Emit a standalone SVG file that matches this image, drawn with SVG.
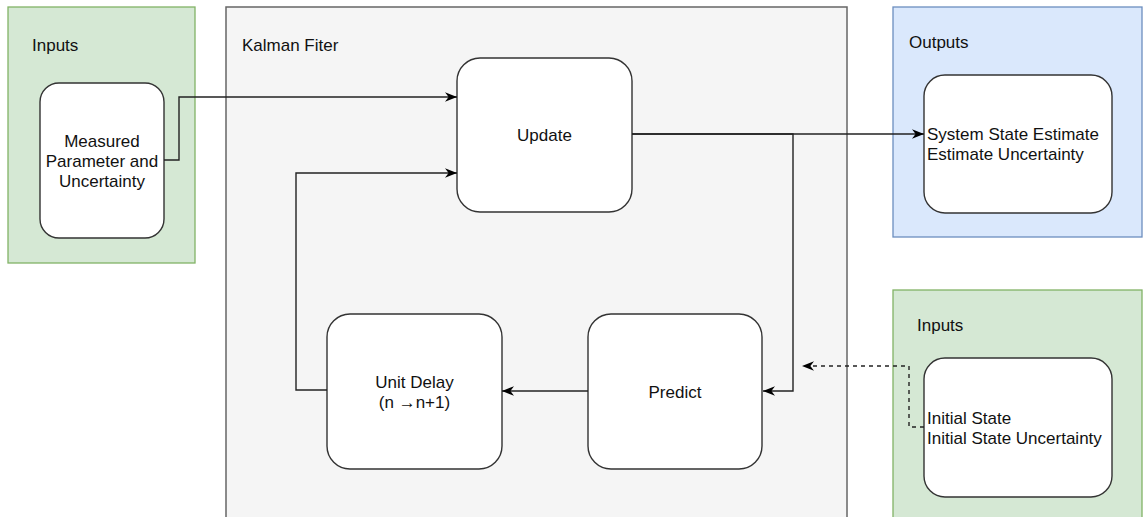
<svg xmlns="http://www.w3.org/2000/svg" width="1147" height="517" viewBox="0 0 1147 517">
<defs>
<style>
text{font-family:"Liberation Sans",Arial,Helvetica,sans-serif;font-size:17px;fill:#111}
.node{fill:#fff;stroke:#333;stroke-width:1.4}
.green{fill:#d5e8d4;stroke:#82b366;stroke-width:1.3}
.blue{fill:#dae8fc;stroke:#6c8ebf;stroke-width:1.3}
.gray{fill:#f5f5f5;stroke:#666;stroke-width:1.5}
.edge{fill:none;stroke:#222;stroke-width:1.4}
.dash{stroke-dasharray:4 4}
.c{text-anchor:middle}
</style>
<marker id="arr" viewBox="0 0 10 10" refX="10" refY="5" markerWidth="12" markerHeight="12" orient="auto" markerUnits="userSpaceOnUse">
<path d="M0,1 L10,5 L0,9 L3,5 Z" fill="#000"/>
</marker>
</defs>

<g id="container-inputs-left">
<rect class="green" x="8" y="7" width="187" height="256"/>
<text x="32" y="51">Inputs</text>
</g>
<g id="container-kalman">
<rect class="gray" x="226" y="7" width="621" height="525"/>
<text x="242" y="51">Kalman Fiter</text>
</g>
<g id="container-outputs">
<rect class="blue" x="893" y="7" width="249" height="230"/>
<text x="909" y="48">Outputs</text>
</g>
<g id="container-inputs-right">
<rect class="green" x="893" y="290" width="249" height="240"/>
<text x="917" y="331">Inputs</text>
</g>

<g id="node-measured">
<rect class="node" x="40" y="83" width="124" height="155" rx="19"/>
<text class="c" x="102" y="146.5">Measured</text>
<text class="c" x="102" y="166.5">Parameter and</text>
<text class="c" x="102" y="186.5">Uncertainty</text>
</g>
<g id="node-update">
<rect class="node" x="457" y="58" width="175" height="154" rx="23"/>
<text class="c" x="544.5" y="141">Update</text>
</g>
<g id="node-unit-delay">
<rect class="node" x="327" y="314" width="175" height="155" rx="23"/>
<text class="c" x="414.5" y="387.5">Unit Delay</text>
<text class="c" x="414.5" y="407.5">(n →n+1)</text>
</g>
<g id="node-predict">
<rect class="node" x="588" y="314" width="174" height="155" rx="23"/>
<text class="c" x="675" y="397.5">Predict</text>
</g>
<g id="node-system-state">
<rect class="node" x="924" y="75" width="188" height="138" rx="21"/>
<text x="927" y="140">System State Estimate</text>
<text x="927" y="160">Estimate Uncertainty</text>
</g>
<g id="node-initial-state">
<rect class="node" x="924" y="358" width="188" height="139" rx="21"/>
<text x="927" y="423.5">Initial State</text>
<text x="927" y="443.5">Initial State Uncertainty</text>
</g>

<g id="connectors">
<path class="edge" d="M164,160 H179 V97 H457" marker-end="url(#arr)"/>
<path class="edge" d="M327,390 H296 V173 H457" marker-end="url(#arr)"/>
<path class="edge" d="M632,134 H793 V391 H763" marker-end="url(#arr)"/>
<path class="edge" d="M632,134 H924" marker-end="url(#arr)"/>
<path class="edge" d="M588,391 H502" marker-end="url(#arr)"/>
<path class="edge dash" d="M924,427 H909 V366 H802" marker-end="url(#arr)"/>
</g>
</svg>
